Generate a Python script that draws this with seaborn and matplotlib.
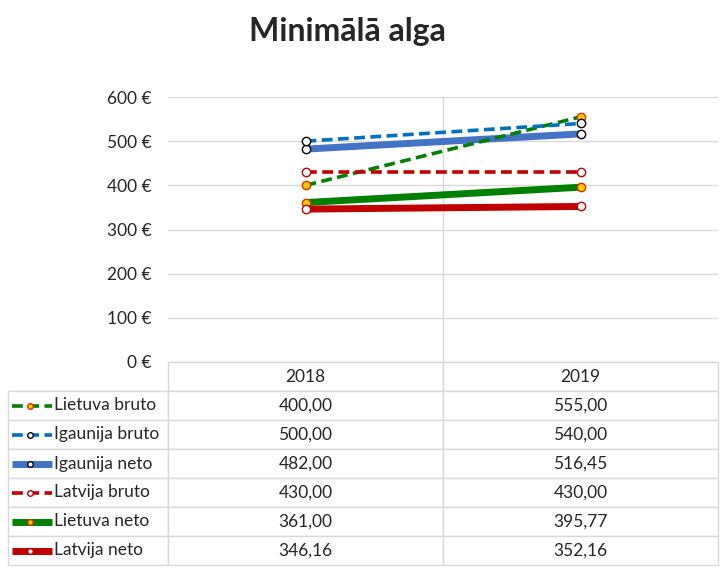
import pandas as pd
import matplotlib.pyplot as plt
from matplotlib.lines import Line2D
from matplotlib.ticker import FixedLocator
import seaborn as sns

# -----------------------------
# Data (read off the chart table)
# -----------------------------
years = ["2018", "2019"]
series = ["Lietuva bruto", "Igaunija bruto", "Igaunija neto",
          "Latvija bruto", "Lietuva neto", "Latvija neto"]

lietuva_bruto = [400.00, 555.00]
igaunija_bruto = [500.00, 540.00]
igaunija_neto = [482.00, 516.45]
latvija_bruto = [430.00, 430.00]
lietuva_neto = [361.00, 395.77]
latvija_neto = [346.16, 352.16]

values = [lietuva_bruto, igaunija_bruto, igaunija_neto,
          latvija_bruto, lietuva_neto, latvija_neto]

yticks = [0, 100, 200, 300, 400, 500, 600]

rows = []
for name, vals in zip(series, values):
    for yr, v in zip(years, vals):
        rows.append((name, yr, v))
df = pd.DataFrame(rows, columns=["series", "year", "value"])

# line colour, dashed?, marker face, marker edge
styles = {
    "Lietuva bruto": ("#008000", True, "#FFCC00", "#E03000"),
    "Igaunija bruto": ("#0070C0", True, "white", "black"),
    "Igaunija neto": ("#4472C4", False, "white", "black"),
    "Latvija bruto": ("#C00000", True, "white", "#C00000"),
    "Lietuva neto": ("#008000", False, "#FFCC00", "#E03000"),
    "Latvija neto": ("#C00000", False, "white", "#C00000"),
}
DASH = (0, (3, 1.5))

# -----------------------------
# Plot
# -----------------------------
sns.set_style("white")
plt.rcParams["font.family"] = ["Lato", "DejaVu Sans"]

fig = plt.figure(figsize=(7.24, 5.69), dpi=100)
ax = fig.add_axes([168 / 724, 1 - 362 / 569, 550 / 724, 265 / 569])

# draw solid lines first, dashed on top
order = [s for s in series if not styles[s][1]] + [s for s in series if styles[s][1]]
for name in order:
    color, dashed, mfc, mec = styles[name]
    sub = df[df["series"] == name]
    sns.lineplot(
        data=sub, x="year", y="value", ax=ax, sort=False,
        color=color,
        linewidth=2.6 if dashed else 5,
        linestyle=DASH if dashed else "-",
        marker="o", markersize=6,
        markerfacecolor=mfc, markeredgecolor=mec, markeredgewidth=1,
        solid_capstyle="butt", dash_capstyle="butt",
    )

ax.set_xlim(-0.5, 1.5)
ax.set_ylim(0, 600)
ax.set_yticks(yticks)
ax.set_yticklabels([f"{v} €" for v in yticks])
ax.set_xticks([])
ax.xaxis.set_minor_locator(FixedLocator([0.5]))
ax.grid(False)
ax.yaxis.grid(True, color="#d9d9d9", linewidth=1)
ax.xaxis.grid(True, which="minor", color="#d9d9d9", linewidth=1)
ax.tick_params(axis="y", length=0, pad=12, labelsize=12.5)
ax.tick_params(axis="x", which="both", length=0)
ax.set_xlabel("")
ax.set_ylabel("")
for sp in ax.spines.values():
    sp.set_visible(False)

fig.text(0.48, 1 - 32 / 569, "Minimālā alga", ha="center", va="center",
         fontsize=23, fontweight="bold")

# -----------------------------
# Data table under the chart
# -----------------------------
fmt = lambda v: f"{v:.2f}".replace(".", ",")
cell_text = [[name] + [fmt(v) for v in vals] for name, vals in zip(series, values)]

tbl = ax.table(
    cellText=cell_text,
    colLabels=[""] + years,
    colWidths=[160, 275, 275],
    cellLoc="center",
    bbox=[(8 - 168) / 550, -203 / 265, 710 / 550, 203 / 265],
)
tbl.auto_set_font_size(False)
tbl.set_fontsize(12.5)
for (r, c), cell in tbl.get_celld().items():
    cell.set_edgecolor("#d9d9d9")
    cell.set_linewidth(1)
    if r == 0 and c == 0:
        cell.visible_edges = "B"
    if r > 0 and c == 0:
        cell.get_text().set_ha("left")
        cell.PAD = 46 / 160

# legend keys inside the label column
row_h = 29
for i, name in enumerate(series):
    color, dashed, mfc, mec = styles[name]
    yc = -(row_h * (i + 1) + row_h / 2) / 265
    x0, x1, xm = (12 - 168) / 550, (52 - 168) / 550, (30 - 168) / 550
    key = Line2D([x0, x1], [yc, yc], transform=ax.transAxes, clip_on=False,
                 color=color, linewidth=2.6 if dashed else 5,
                 linestyle=DASH if dashed else "-",
                 solid_capstyle="butt", dash_capstyle="butt")
    ax.add_artist(key)
    mk = Line2D([xm], [yc], transform=ax.transAxes, clip_on=False,
                marker="o", markersize=4, markerfacecolor=mfc,
                markeredgecolor=mec, markeredgewidth=1, linestyle="none")
    ax.add_artist(mk)

fig.savefig("out.png", dpi=100)
